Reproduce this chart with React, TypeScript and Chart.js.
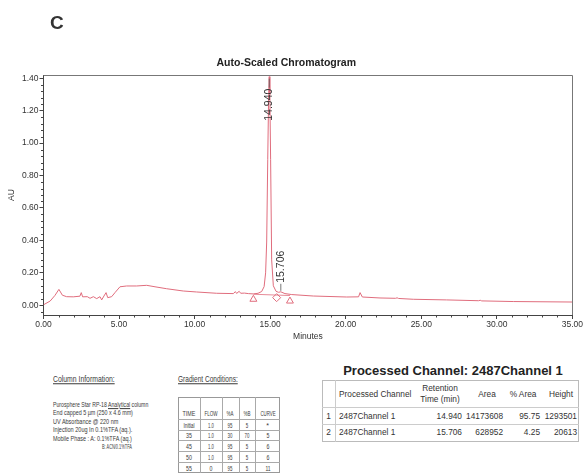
import React, { useEffect, useLayoutEffect, useRef } from "react";
import { Chart, registerables } from "chart.js";

Chart.register(...registerables);

// ---------- data ----------
const times = [
  0, 0.44, 0.76, 1.02, 1.25, 1.53, 1.97, 2.41, 2.5, 2.59, 2.9, 3.08, 3.3, 3.52, 3.74, 3.85, 4.0, 4.14, 4.25, 4.51,
  4.73, 5.06, 5.5, 6.16, 6.83, 7.38, 8.15, 9.25, 10.13, 11.46, 12.56, 12.7, 12.78, 12.95, 13.05, 13.3, 13.56, 13.89,
  14.2, 14.44, 14.6, 14.7, 14.77, 14.84, 14.9, 14.94, 14.98, 15.03, 15.1, 15.21, 15.39, 15.55, 15.706, 15.85, 15.98,
  16.43, 17.86, 20.07, 20.85, 20.95, 21.1, 22.27, 23.3, 23.4, 23.5, 24.47, 26.68, 28.8, 28.9, 29.0, 31.09, 35.0,
];
const absorbance = [
  0.003, 0.026, 0.061, 0.098, 0.062, 0.053, 0.052, 0.056, 0.078, 0.052, 0.053, 0.043, 0.053, 0.041, 0.053, 0.033,
  0.057, 0.078, 0.047, 0.053, 0.078, 0.114, 0.119, 0.119, 0.123, 0.114, 0.102, 0.088, 0.082, 0.074, 0.072, 0.084,
  0.073, 0.086, 0.074, 0.075, 0.072, 0.07, 0.074, 0.085, 0.115, 0.2, 0.39, 0.9, 1.3, 1.41, 1.3, 0.9, 0.28, 0.12,
  0.086, 0.08, 0.083, 0.077, 0.072, 0.066, 0.057, 0.051, 0.052, 0.078, 0.051, 0.045, 0.043, 0.046, 0.042, 0.037,
  0.033, 0.028, 0.031, 0.027, 0.023, 0.02,
];
const baselineTimes = [13.89, 16.31];
const baselineValues = [0.068, 0.06];
const markerTimes = [13.89, 15.43, 16.31];
const markerValues = [0.037, 0.047, 0.026];
const markerShapes = ["triangle", "rectRot", "triangle"];
const peakTimes = [14.94, 15.706];
const peakLabels = ["14.940", "15.706"];

const xTickValues = [0, 5, 10, 15, 20, 25, 30, 35];
const yTickValues = [0, 0.2, 0.4, 0.6, 0.8, 1.0, 1.2, 1.4];

const columnInfoLines = [
  "Purosphere Star RP-18 |Analytical| column",
  "End capped 5 µm (250 x 4.6 mm)",
  "UV Absorbance @ 220 nm",
  "Injection 20ug In 0.1%TFA (aq.).",
  "Mobile Phase : A: 0.1%TFA (aq.)",
  "B: ACN/0.1%TFA",
];

const gradHeaders = ["TIME", "FLOW", "%A", "%B", "CURVE"];
const gradTime = ["Initial", "35", "45", "50", "55"];
const gradFlow = ["1.0", "1.0", "1.0", "1.0", "0"];
const gradA = ["95", "30", "95", "95", "95"];
const gradB = ["5", "70", "5", "5", "5"];
const gradCurve = ["*", "5", "6", "6", "11"];

const procIndex = ["1", "2"];
const procChannel = ["2487Channel 1", "2487Channel 1"];
const procRetention = ["14.940", "15.706"];
const procArea = ["14173608", "628952"];
const procPctArea = ["95.75", "4.25"];
const procHeight = ["1293501", "20613"];

// ---------- styles ----------
const TRACE = "#e06d7d";
const AXIS = "#444";
const TEXT = "#333";
const FONT = "'Liberation Sans', Arial, sans-serif";

const decorPlugin = {
  id: "decor",
  afterDatasetsDraw(chart: any) {
    const { ctx, chartArea: a, scales } = chart;
    const x = scales.x;
    const y = scales.y;
    ctx.save();
    // top / right frame
    ctx.strokeStyle = "#777";
    ctx.lineWidth = 1;
    ctx.beginPath();
    ctx.moveTo(a.left, Math.round(a.top) + 0.5);
    ctx.lineTo(Math.round(a.right) + 0.5, Math.round(a.top) + 0.5);
    ctx.lineTo(Math.round(a.right) + 0.5, a.bottom);
    ctx.stroke();
    // minor ticks
    ctx.strokeStyle = AXIS;
    ctx.beginPath();
    for (let m = 1; m < 35; m++) {
      if (m % 5 === 0) continue;
      const px = Math.round(x.getPixelForValue(m)) + 0.5;
      ctx.moveTo(px, a.bottom);
      ctx.lineTo(px, a.bottom + 2.5);
    }
    for (let k = -1; k <= 35; k++) {
      if (k % 5 === 0) continue;
      const v = k * 0.04;
      if (v < y.min || v > y.max) continue;
      const py = Math.round(y.getPixelForValue(v)) + 0.5;
      ctx.moveTo(a.left - 2.5, py);
      ctx.lineTo(a.left, py);
    }
    ctx.stroke();
    // peak labels
    ctx.font = `10.5px ${FONT}`;
    ctx.fillStyle = TEXT;
    ctx.textBaseline = "middle";
    peakTimes.forEach((t, i) => {
      const idx = times.indexOf(t);
      const v = absorbance[idx];
      const px = x.getPixelForValue(t);
      const py = y.getPixelForValue(v);
      ctx.strokeStyle = "#555";
      ctx.lineWidth = 0.8;
      if (i === 0) {
        const end = py + 11;
        ctx.beginPath();
        ctx.moveTo(px, end);
        ctx.lineTo(px, py + 2);
        ctx.stroke();
        ctx.save();
        ctx.translate(px - 0.5, end + 1);
        ctx.rotate(-Math.PI / 2);
        ctx.textAlign = "right";
        ctx.fillText(peakLabels[i], 0, 0);
        ctx.restore();
      } else {
        const start = py - 8;
        ctx.beginPath();
        ctx.moveTo(px, py - 1);
        ctx.lineTo(px, start);
        ctx.stroke();
        ctx.save();
        ctx.translate(px + 0.5, start - 1);
        ctx.rotate(-Math.PI / 2);
        ctx.textAlign = "left";
        ctx.fillText(peakLabels[i], 0, 0);
        ctx.restore();
      }
    });
    ctx.restore();
  },
};

function Txt(props: {
  x: number;
  y: number;
  size: number;
  align?: "left" | "center" | "right";
  bold?: boolean;
  fit?: number;
  underline?: boolean;
  color?: string;
  children: React.ReactNode;
}) {
  const { x, y, size, align = "left", bold, fit, underline, color, children } = props;
  const ref = useRef<HTMLSpanElement>(null);
  const tx = align === "left" ? "0" : align === "center" ? "-50%" : "-100%";
  const origin = align === "left" ? "left center" : align === "center" ? "center center" : "right center";
  useLayoutEffect(() => {
    const el = ref.current;
    if (!el || !fit) return;
    const w = el.offsetWidth;
    if (w > 0) el.style.transform = `translate(${tx}, -50%) scaleX(${fit / w})`;
  }, [fit, tx]);
  return (
    <span
      ref={ref}
      style={{
        position: "absolute",
        left: x,
        top: y,
        fontSize: size,
        lineHeight: 1,
        fontWeight: bold ? "bold" : "normal",
        whiteSpace: "nowrap",
        color: color || TEXT,
        transformOrigin: origin,
        transform: `translate(${tx}, -50%)`,
        textDecoration: underline ? "underline" : "none",
      }}
    >
      {children}
    </span>
  );
}

function renderUnderlined(s: string) {
  const parts = s.split("|");
  return parts.map((p, i) => (i % 2 === 1 ? <u key={i}>{p}</u> : <React.Fragment key={i}>{p}</React.Fragment>));
}

function Line(props: { x: number; y: number; w: number; h: number; c?: string }) {
  return (
    <div
      style={{ position: "absolute", left: props.x, top: props.y, width: props.w, height: props.h, background: props.c || "#aaa" }}
    />
  );
}

export default function App() {
  const canvasRef = useRef<HTMLCanvasElement>(null);

  useEffect(() => {
    const canvas = canvasRef.current;
    if (!canvas) return;
    const tickFont = { family: FONT, size: 8.5 };
    const chart = new Chart(canvas, {
      type: "line",
      data: {
        datasets: [
          {
            data: times.map((t, i) => ({ x: t, y: absorbance[i] })),
            borderColor: TRACE,
            borderWidth: 1,
            pointRadius: 0,
            tension: 0,
          },
          {
            data: baselineTimes.map((t, i) => ({ x: t, y: baselineValues[i] })),
            borderColor: TRACE,
            borderWidth: 0.8,
            pointRadius: 0,
            tension: 0,
          },
          {
            data: markerTimes.map((t, i) => ({ x: t, y: markerValues[i] })),
            showLine: false,
            pointStyle: markerShapes as any,
            pointRadius: 4,
            pointBackgroundColor: "rgba(255,255,255,0)",
            pointBorderColor: TRACE,
            pointBorderWidth: 1,
          },
        ],
      },
      options: {
        animation: false,
        responsive: false,
        events: [],
        layout: { padding: { left: 0, right: 11.5, top: 0, bottom: 0 } },
        plugins: {
          legend: { display: false },
          tooltip: { enabled: false },
          title: {
            display: true,
            text: "Auto-Scaled Chromatogram",
            color: "#222",
            font: { family: FONT, size: 10.5, weight: "bold" },
            padding: { top: 57, bottom: 5.4 },
          },
        },
        scales: {
          x: {
            type: "linear",
            min: 0,
            max: 35,
            afterBuildTicks: (s: any) => {
              s.ticks = xTickValues.map((v) => ({ value: v }));
            },
            afterFit: (s: any) => {
              s.height = 30;
            },
            ticks: {
              autoSkip: false,
              maxRotation: 0,
              padding: 1,
              color: TEXT,
              font: tickFont,
              callback: (v: any) => Number(v).toFixed(2),
            },
            grid: { drawOnChartArea: false, tickLength: 4, color: AXIS },
            border: { color: AXIS },
            title: {
              display: true,
              text: "Minutes",
              color: TEXT,
              font: tickFont,
              padding: { top: 0, bottom: 3 },
            },
          },
          y: {
            type: "linear",
            min: -0.06,
            max: 1.42,
            afterBuildTicks: (s: any) => {
              s.ticks = yTickValues.map((v) => ({ value: v }));
            },
            afterFit: (s: any) => {
              s.width = 43.5;
            },
            ticks: {
              padding: 1,
              color: TEXT,
              font: tickFont,
              callback: (v: any) => Number(v).toFixed(2),
            },
            grid: { drawOnChartArea: false, tickLength: 4, color: AXIS },
            border: { color: AXIS },
            title: {
              display: true,
              text: "AU",
              color: TEXT,
              font: tickFont,
              padding: { top: 7, bottom: 0 },
            },
          },
        },
      } as any,
      plugins: [decorPlugin],
    });
    return () => chart.destroy();
  }, []);

  // gradient table geometry
  const gCols = [177.5, 199.5, 221.5, 238.5, 255, 280];
  const gRows = [397, 419, 429.5, 440, 451, 461.5, 473];
  const gradCols = [gradTime, gradFlow, gradA, gradB, gradCurve];
  const gradFits = [
    [11, 6, 6, 6, 6],
    [6, 6, 6, 6, 3],
    [5, 5, 5, 5, 5],
    [2.5, 5, 2.5, 2.5, 2.5],
    [3, 3, 3, 3, 5],
  ];

  // processed table geometry
  const pLeft = 322, pRight = 579, pTop = 380, pBottom = 442;
  const pRowLines = [407, 424];
  const pRowY = [415.7, 432];

  const infoColor = "#3a3a3a";

  return (
    <div
      style={{
        position: "absolute",
        left: 0,
        top: 0,
        width: 584,
        height: 475,
        background: "#fff",
        fontFamily: FONT,
        overflow: "hidden",
      }}
    >
      <canvas ref={canvasRef} width={584} height={345} style={{ position: "absolute", left: 0, top: 0, display: "block" }} />
      <Txt x={50} y={22} size={19} bold>
        C
      </Txt>

      {/* Column information */}
      <Txt x={53} y={379} size={9.5} fit={62} underline color={infoColor}>
        Column Information:
      </Txt>
      {columnInfoLines.map((l, i) => (
        <Txt key={i} x={i === 5 ? 102 : 53} y={405 + i * 8.4} size={7.8} fit={[95, 80, 65, 79, 79, 30][i]} color={infoColor}>
          {renderUnderlined(l)}
        </Txt>
      ))}

      {/* Gradient conditions */}
      <Txt x={178} y={379} size={9.5} fit={60} underline color={infoColor}>
        Gradient Conditions:
      </Txt>
      <div
        style={{
          position: "absolute",
          left: gCols[0],
          top: gRows[0],
          width: gCols[5] - gCols[0],
          height: gRows[6] - gRows[0],
          border: "1px solid #999",
          boxSizing: "border-box",
        }}
      />
      {gCols.slice(1, 5).map((c, i) => (
        <Line key={"gc" + i} x={c} y={gRows[0]} w={1} h={gRows[6] - gRows[0]} c="#aaa" />
      ))}
      {gRows.slice(1, 6).map((r, i) => (
        <Line key={"gr" + i} x={gCols[0]} y={r} w={gCols[5] - gCols[0]} h={1} c="#aaa" />
      ))}
      {gradHeaders.map((h, i) => (
        <Txt key={"gh" + i} x={(gCols[i] + gCols[i + 1]) / 2} y={413} size={7} align="center" fit={[13, 13, 7, 7, 15][i]} color={infoColor}>
          {h}
        </Txt>
      ))}
      {gradCols.map((col, ci) =>
        col.map((v, ri) => (
          <Txt
            key={"g" + ci + "-" + ri}
            x={(gCols[ci] + gCols[ci + 1]) / 2}
            y={(gRows[ri + 1] + gRows[ri + 2]) / 2 + 0.5}
            size={7}
            align="center"
            fit={gradFits[ci][ri]}
            color={infoColor}
          >
            {v}
          </Txt>
        ))
      )}

      {/* Processed channel */}
      <Txt x={453} y={370} size={13} bold align="center" fit={220} color="#222">
        Processed Channel: 2487Channel 1
      </Txt>
      <div
        style={{
          position: "absolute",
          left: pLeft,
          top: pTop,
          width: pRight - pLeft,
          height: pBottom - pTop,
          border: "1px solid #bbb",
          boxSizing: "border-box",
        }}
      />
      <Line x={335} y={pTop} w={1} h={pBottom - pTop} c="#ccc" />
      {pRowLines.map((r, i) => (
        <Line key={"pr" + i} x={pLeft} y={r} w={pRight - pLeft} h={1} c="#ccc" />
      ))}
      <Txt x={339} y={394} size={8.3}>
        Processed Channel
      </Txt>
      <Txt x={440} y={387.5} size={8.3} align="center">
        Retention
      </Txt>
      <Txt x={440} y={399} size={8.3} align="center">
        Time (min)
      </Txt>
      <Txt x={487} y={394} size={8.3} align="center">
        Area
      </Txt>
      <Txt x={523} y={394} size={8.3} align="center">
        % Area
      </Txt>
      <Txt x={561} y={394} size={8.3} align="center">
        Height
      </Txt>
      {procIndex.map((v, i) => (
        <React.Fragment key={"p" + i}>
          <Txt x={328.5} y={pRowY[i]} size={8.3} align="center">
            {v}
          </Txt>
          <Txt x={339} y={pRowY[i]} size={8.3}>
            {procChannel[i]}
          </Txt>
          <Txt x={462} y={pRowY[i]} size={8.3} align="right">
            {procRetention[i]}
          </Txt>
          <Txt x={503} y={pRowY[i]} size={8.3} align="right">
            {procArea[i]}
          </Txt>
          <Txt x={540} y={pRowY[i]} size={8.3} align="right">
            {procPctArea[i]}
          </Txt>
          <Txt x={577} y={pRowY[i]} size={8.3} align="right">
            {procHeight[i]}
          </Txt>
        </React.Fragment>
      ))}
    </div>
  );
}
